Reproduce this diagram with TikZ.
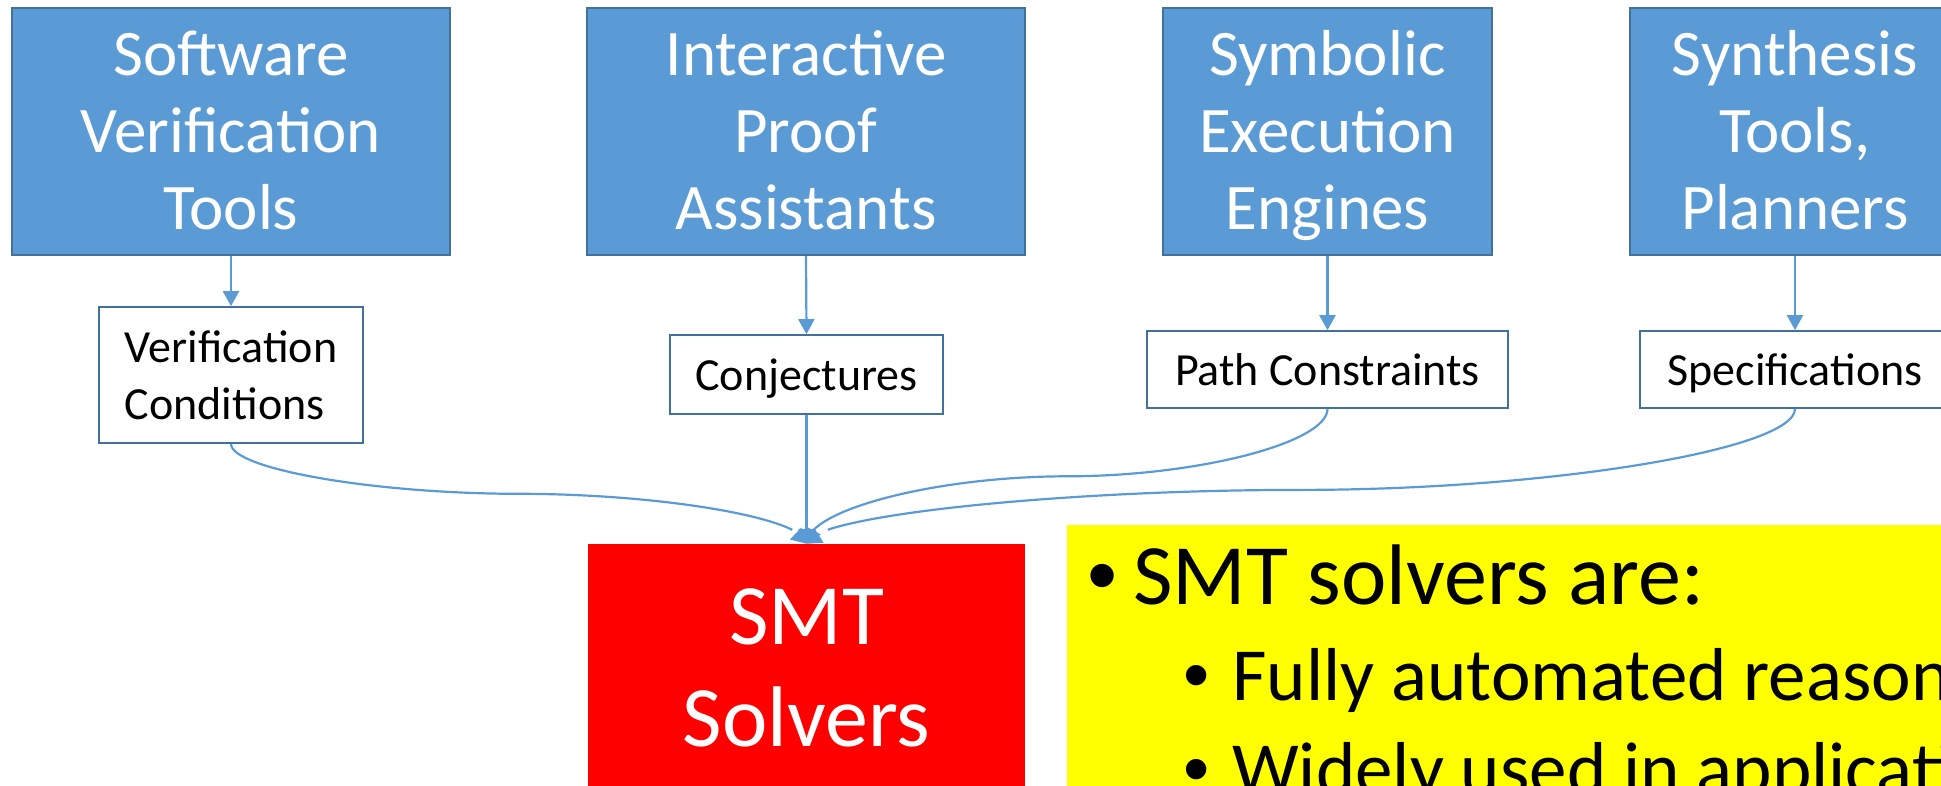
\documentclass[tikz,border=0pt]{standalone}
\usepackage{fontspec}
\setmainfont{Carlito}
\newfontfamily\bulletfont{Liberation Sans}
\usetikzlibrary{arrows.meta,bending,calc}
\definecolor{accent}{HTML}{5B9BD5}
\definecolor{accentdark}{HTML}{41719C}
\definecolor{solverred}{HTML}{FF0000}
\definecolor{noteyellow}{HTML}{FFFF00}
% bullet centred #1 right of the line start, text starting #2 right of it
\newcommand{\itemmark}[2]{\rlap{\hspace{#1}\makebox[0pt]{\bulletfont •}}\hspace{#2}}

\begin{document}
\begin{tikzpicture}[x=1pt,y=-1pt,
  toolbox/.style={draw=accentdark, line width=2pt, fill=accent, text=white,
    align=center, inner sep=0pt, minimum width=438pt, minimum height=247pt,
    font=\fontsize{65}{77}\selectfont, text height=204pt, text depth=7pt},
  outbox/.style={draw=accentdark, line width=1.6pt, fill=white, text=black,
    inner sep=0pt, font=\fontsize{46}{57}\selectfont,
    text height=35pt, text depth=4pt},
  conn/.style={draw=accent, line width=2.2pt,
    -{Triangle[length=15pt,width=16pt]}},
  bullettext/.style={anchor=base west, inner sep=0pt, text=black}
]
\useasboundingbox (0,0) rectangle (1941,786);
\clip (0,0) rectangle (1941,786);

% tools
\node[toolbox] (svt) at (231,131.5) {Software\\Verification\\Tools};
\node[toolbox] (ipa) at (806,131.5) {Interactive\\Proof\\Assistants};
\node[toolbox, minimum width=329pt] (see) at (1327.5,131.5) {Symbolic\\Execution\\Engines};
\node[toolbox, minimum width=330pt] (stp) at (1795,131.5) {Synthesis\\Tools,\\Planners};

% what each tool produces
\node[outbox, minimum width=264pt, minimum height=136pt, align=left,
  text height=92pt, text depth=4pt] (vc) at (231,375) {Verification\\Conditions};
\node[outbox, minimum width=273pt, minimum height=79pt] (conj) at (806.5,374.5) {Conjectures};
\node[outbox, minimum width=361pt, minimum height=77pt] (pc) at (1327.5,369.5) {Path Constraints};
\node[outbox, minimum width=310pt, minimum height=77pt] (spec) at (1795,369.5) {Specifications};

% the solver
\node[fill=solverred, text=white, inner sep=0pt, minimum width=437pt, minimum height=276pt,
  align=center, font=\fontsize{86}{102}\selectfont, text height=162pt, text depth=34pt]
  (smt) at (806.5,682) {SMT\\Solvers};

% note
\node[fill=noteyellow, anchor=north west, inner sep=0pt, minimum width=900pt,
  minimum height=300pt] (note) at (1067,525) {};
\node[bullettext, font=\fontsize{86}{102}\selectfont] (n1) at (1086,604)
  {\itemmark{16pt}{47pt}SMT solvers are:};
\node[bullettext, font=\fontsize{75}{90}\selectfont] (n2) at (1182,700)
  {\itemmark{14pt}{50pt}Fully automated reasoners};
\node[bullettext, font=\fontsize{75}{90}\selectfont] (n3) at (1182,794)
  {\itemmark{14pt}{50pt}Widely used in applications};

% tool -> product
\draw[conn] (svt.south) -- (vc.north);
\draw[conn] (ipa.south) -- (conj.north);
\draw[conn] (see.south) -- (pc.north);
\draw[conn] (stp.south) -- (spec.north);

% product -> solver
\draw[conn] (vc.south) .. controls +(0,25.25) and +(-143.9,0) ..
  ($(vc.south)!0.5!(smt.north)$) .. controls +(143.9,0) and +(0,-25.25) .. (smt.north);
\draw[conn] (conj.south) -- (smt.north);
\draw[conn] (pc.south) .. controls +(0,34) and +(130.25,0) ..
  ($(pc.south)!0.5!(smt.north)$) .. controls +(-130.25,0) and +(0,-34) .. (smt.north);
\draw[conn] (spec.south) .. controls +(0,40.8) and +(247,0) ..
  ($(spec.south)!0.5!(smt.north)+(0,13.6)$) .. controls +(-247,0) and +(0,-27.2) .. (smt.north);
\end{tikzpicture}
\end{document}
